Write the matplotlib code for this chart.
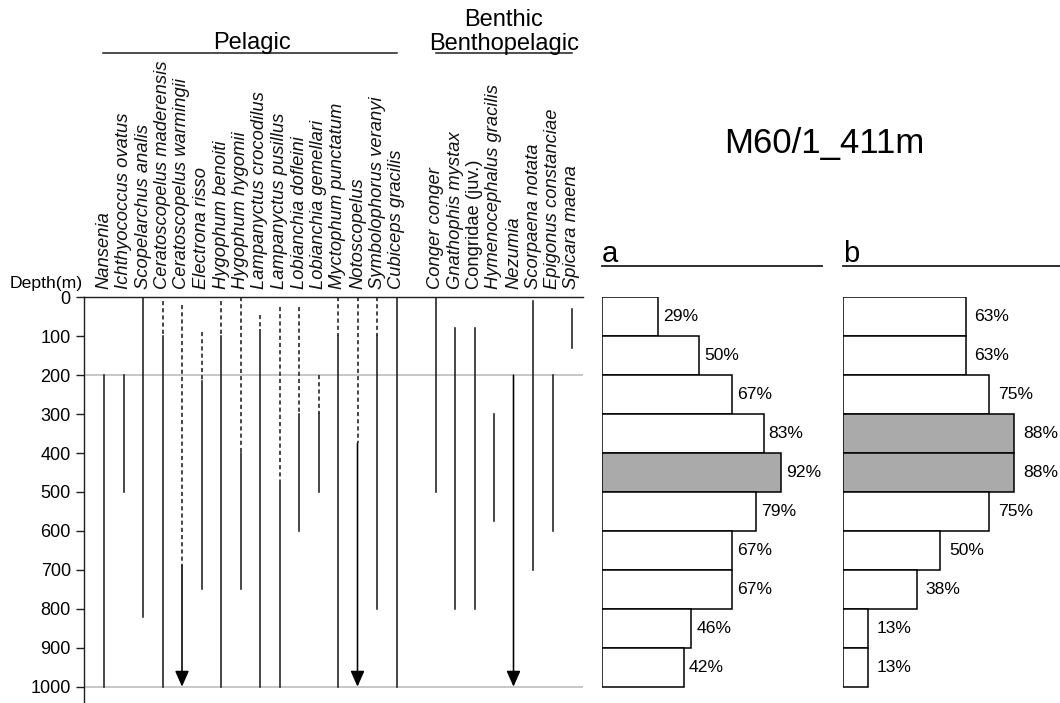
import numpy as np
import matplotlib
matplotlib.use("Agg")
import matplotlib.pyplot as plt

plt.rcParams.update({
    "font.family": ["Liberation Sans", "DejaVu Sans"],
    "axes.linewidth": 1.0,
})

W, H = 1060, 703

# --- data -----------------------------------------------------------------
species = [
    "Nansenia", "Ichthyococcus ovatus", "Scopelarchus analis",
    "Ceratoscopelus maderensis", "Ceratoscopelus warmingii", "Electrona risso",
    "Hygophum benoiti", "Hygophum hygomii", "Lampanyctus crocodilus",
    "Lampanyctus pusillus", "Lobianchia dofleini", "Lobianchia gemellari",
    "Myctophum punctatum", "Notoscopelus", "Symbolophorus veranyi",
    "Cubiceps gracilis",
    "Conger conger", "Gnathophis mystax", "Congridae (juv.)",
    "Hymenocephalus gracilis", "Nezumia", "Scorpaena notata",
    "Epigonus constanciae", "Spicara maena",
]
n_pelagic = 16
# x slot of each species (one empty slot between the two groups)
slots = list(range(16)) + list(range(17, 25))

# dashed (uncertain) range, None where there is none
dash_top = [None, None, None, 10, 20, 90, 10, 0, 45, 25, 25, 200, 0, 0, 0, None,
            None, None, None, None, None, None, None, None]
dash_bot = [None, None, None, 100, 690, 215, 100, 400, 85, 480, 300, 300, 100, 375, 100, None,
            None, None, None, None, None, None, None, None]
# solid (confirmed) range
solid_top = [200, 200, 0, 100, 690, 215, 100, 400, 85, 480, 300, 300, 100, 375, 100, 0,
             0, 80, 80, 300, 200, 10, 200, 30]
solid_bot = [1000, 500, 820, 1000, 1000, 750, 1000, 750, 1000, 1000, 600, 500, 1000, 1000, 800, 1000,
             500, 800, 800, 575, 1000, 700, 600, 130]
deeper = [False, False, False, False, True, False, False, False, False, False, False, False,
          False, True, False, False,
          False, False, False, False, True, False, False, False]

depth_bins = np.arange(0, 1000, 100)
pct_a = [29, 50, 67, 83, 92, 79, 67, 67, 46, 42]
pct_b = [63, 63, 75, 88, 88, 75, 50, 38, 13, 13]
max_a = [False, False, False, False, True, False, False, False, False, False]
max_b = [False, False, False, True, True, False, False, False, False, False]

# --- layout helpers --------------------------------------------------------
PX_PER_M = 0.3894
Y0 = 297.3                      # pixel row of depth 0
YMAX = (H - Y0) / PX_PER_M      # depth at bottom edge of figure
X_SLOT = 19.5
X_FIRST = 104.0
X_LEFT, X_RIGHT = 84.0, 583.0
XLIM = ((X_LEFT - X_FIRST) / X_SLOT, (X_RIGHT - X_FIRST) / X_SLOT)

LINE = "#1e1e1e"
GRID = "#bdbdbd"
FILL = "#aaaaaa"


def px_axes(fig, left, top, right, bottom):
    return fig.add_axes([left / W, 1 - bottom / H, (right - left) / W, (bottom - top) / H])


fig = plt.figure(figsize=(W / 100, H / 100), dpi=100)

# --- depth ranges ----------------------------------------------------------
ax = px_axes(fig, X_LEFT, Y0, X_RIGHT, H)
ax.set_xlim(*XLIM)
ax.set_ylim(YMAX, 0)
for s in ("right", "bottom"):
    ax.spines[s].set_visible(False)
ax.spines["top"].set_color(LINE)
ax.spines["left"].set_color(LINE)
ax.set_xticks([])
ax.set_yticks(np.arange(0, 1001, 100))
ax.tick_params(axis="y", direction="out", length=6, width=1.0, pad=3.5,
               labelsize=13, color=LINE)
ax.axhline(200, color=GRID, lw=1.2, zorder=0)
ax.axhline(1000, color=GRID, lw=1.2, zorder=0)

for x, dt, db, st, sb, arr in zip(slots, dash_top, dash_bot, solid_top, solid_bot, deeper):
    if dt is not None:
        ax.plot([x, x], [dt, db], color=LINE, lw=1.15, linestyle=(0, (2.6, 1.9)))
    if arr:
        ax.annotate("", xy=(x, sb), xytext=(x, st),
                    arrowprops=dict(arrowstyle="-|>,head_length=0.95,head_width=0.42",
                                    mutation_scale=10, color="black", lw=1.15,
                                    shrinkA=0, shrinkB=0))
    else:
        ax.plot([x, x], [st, sb], color=LINE, lw=1.15)

# --- species header ----------------------------------------------------------
hx = px_axes(fig, X_LEFT, 0, X_RIGHT, Y0)
hx.set_xlim(*XLIM)
hx.set_ylim(Y0, 0)
hx.axis("off")
for x, name in zip(slots, species):
    style = "normal" if "(juv.)" in name else "italic"
    hx.text(x, 289, name, rotation=90, ha="center", va="bottom",
            fontsize=13.2, fontstyle=style, color="#111111")

hx.plot([slots[0] - 0.05, slots[n_pelagic - 1]], [53.3, 53.3], color=LINE, lw=1.1, clip_on=False)
hx.text((slots[0] + slots[n_pelagic - 1]) / 2 + 0.08, 49.3, "Pelagic",
        ha="center", va="baseline", fontsize=17)
hx.plot([slots[n_pelagic], slots[-1]], [53.3, 53.3], color=LINE, lw=1.1, clip_on=False)
mid_b = (slots[n_pelagic] + slots[-1]) / 2
hx.text(mid_b, 26.5, "Benthic", ha="center", va="baseline", fontsize=17)
hx.text(mid_b, 50.0, "Benthopelagic", ha="center", va="baseline", fontsize=17)

fig.text(83 / W, 1 - 288 / H, "Depth(m)", ha="right", va="baseline", fontsize=12.6)
fig.text(824.5 / W, 1 - 153 / H, "M60/1_411m", ha="center", va="baseline", fontsize=25)

# --- percentage panels -----------------------------------------------------
PX_PER_PCT = 1.95


def pct_panel(left, right, label, values, hilite, gap):
    pax = px_axes(fig, left, Y0, right, H)
    pax.set_xlim(0, (right - left) / PX_PER_PCT)
    pax.set_ylim(YMAX, 0)
    pax.axis("off")
    colors = [FILL if h else "white" for h in hilite]
    pax.barh(depth_bins + 50, values, height=100, left=0, color=colors,
             edgecolor="black", linewidth=1.1)
    for d, v in zip(depth_bins, values):
        pax.annotate(f"{v}%", xy=(v, d + 50), xytext=(gap, 0), textcoords="offset pixels",
                     ha="left", va="center", fontsize=12.6)
    yl = 1 + (Y0 - 266) / (H - Y0)
    pax.plot([0, 1], [yl, yl], transform=pax.transAxes, color=LINE, lw=1.3, clip_on=False)
    pax.text(0.0, yl + 4 / (H - Y0), label, transform=pax.transAxes,
             ha="left", va="baseline", fontsize=21)
    return pax


pct_panel(601.7, 821.7, "a", pct_a, max_a, 5)
pct_panel(842.7, 1060, "b", pct_b, max_b, 9)

fig.savefig("out.png", dpi=100)
